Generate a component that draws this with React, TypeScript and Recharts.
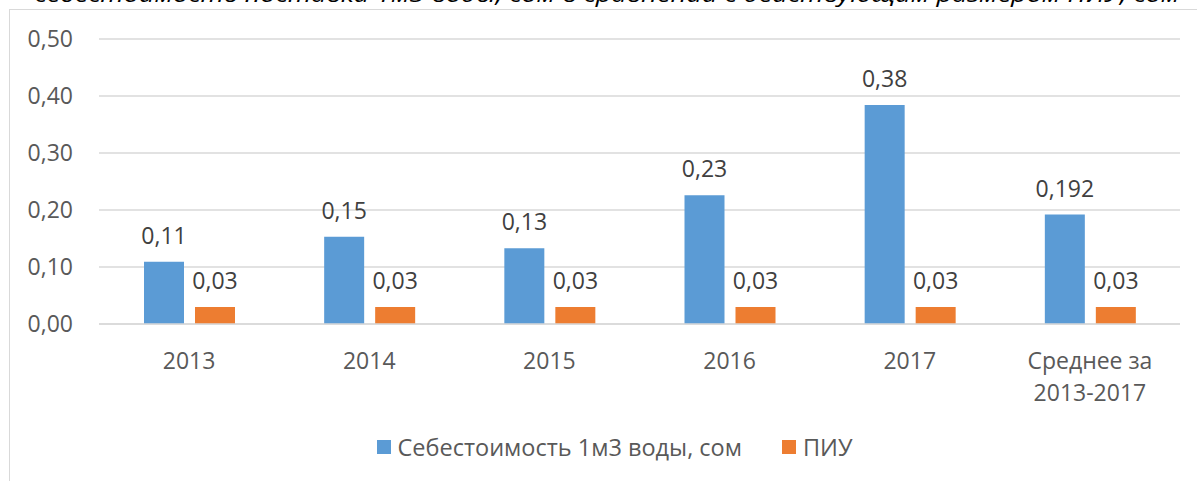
import React from 'react';
import { BarChart, Bar, XAxis, YAxis, CartesianGrid, LabelList } from 'recharts';

const titleText = 'себестоимость поставки 1м3 воды, сом в сравнении с действующим размером ПИУ, сом';
const categories = ['2013', '2014', '2015', '2016', '2017', 'Среднее за\n2013-2017'];
const costValues = [0.109, 0.153, 0.133, 0.226, 0.384, 0.192];
const costLabels = ['0,11', '0,15', '0,13', '0,23', '0,38', '0,192'];
const piuValues = [0.03, 0.03, 0.03, 0.03, 0.03, 0.03];
const piuLabels = ['0,03', '0,03', '0,03', '0,03', '0,03', '0,03'];
const yTicks = [0, 0.1, 0.2, 0.3, 0.4, 0.5];
const seriesNames = ['Себестоимость 1м3 воды, сом', 'ПИУ'];
const seriesColors = ['#5b9bd5', '#ed7d31'];

const data = categories.map((c, i) => ({
  category: c,
  cost: costValues[i],
  costLabel: costLabels[i],
  piu: piuValues[i],
  piuLabel: piuLabels[i],
}));

const FONT = '"Open Sans", "Noto Sans", sans-serif';
const FS = 23;

const XTick = (props: any) => {
  const { x, y, payload } = props;
  const lines = String(payload.value).split('\n');
  return (
    <g>
      {lines.map((l, i) => (
        <text key={i} x={x} y={y + 36 + i * 32} textAnchor="middle" dominantBaseline="central"
          fill="#595959" fontSize={FS} fontFamily={FONT}>{l}</text>
      ))}
    </g>
  );
};

const DataLabel = (props: any) => {
  const { x, y, width, value } = props;
  return (
    <text x={Number(x) + Number(width) / 2} y={Number(y) - 27} textAnchor="middle" dominantBaseline="central"
      fill="#404040" fontSize={FS} fontFamily={FONT}>{value}</text>
  );
};

export default function App() {
  return (
    <div style={{ position: 'absolute', left: 0, top: 0, width: 1197, height: 481, overflow: 'hidden', background: '#fff', fontFamily: FONT }}>
      <svg width={1197} height={20} style={{ position: 'absolute', left: 0, top: 0 }}>
        <text x={607} y={2} textAnchor="middle" fontStyle="italic" fill="#000" fontSize={22} fontFamily={FONT}
          textLength={1145} lengthAdjust="spacingAndGlyphs">{titleText}</text>
      </svg>
      <div style={{ position: 'absolute', left: 9, top: 9, width: 1400, height: 700, border: '1.5px solid #d9d9d9', boxSizing: 'border-box' }} />
      <div style={{ position: 'absolute', left: 0, top: 0 }}>
        <BarChart width={1197} height={481} data={data} margin={{ top: 39, right: 17, left: 9, bottom: 67 }}
          barSize={40} barGap={11}>
          <CartesianGrid vertical={false} stroke="#d9d9d9" strokeWidth={1.5} />
          <XAxis dataKey="category" height={90} tick={<XTick />} tickLine={false} tickSize={0} tickMargin={0}
            axisLine={{ stroke: '#d9d9d9', strokeWidth: 1.5 }} interval={0} />
          <YAxis width={90} domain={[0, 0.5]} ticks={yTicks} axisLine={false} tickLine={false} tickSize={0} tickMargin={26}
            tickFormatter={(v: number) => v.toFixed(2).replace('.', ',')}
            tick={{ fill: '#595959', fontSize: FS, fontFamily: FONT }} />
          <Bar dataKey="cost" name={seriesNames[0]} fill={seriesColors[0]} isAnimationActive={false}>
            <LabelList dataKey="costLabel" content={<DataLabel />} />
          </Bar>
          <Bar dataKey="piu" name={seriesNames[1]} fill={seriesColors[1]} isAnimationActive={false}>
            <LabelList dataKey="piuLabel" content={<DataLabel />} />
          </Bar>
        </BarChart>
      </div>
      <div style={{ position: 'absolute', left: 16, top: 433, width: 1197, height: 28, display: 'flex', justifyContent: 'center', alignItems: 'center', fontSize: 23.5, color: '#595959', fontFamily: FONT }}>
        {seriesNames.map((n, i) => (
          <div key={n} style={{ display: 'flex', alignItems: 'center', marginLeft: i === 0 ? 0 : 40 }}>
            <div style={{ width: 14, height: 14, background: seriesColors[i], marginRight: 7 }} />
            <span style={{ whiteSpace: 'nowrap' }}>{n}</span>
          </div>
        ))}
      </div>
    </div>
  );
}
